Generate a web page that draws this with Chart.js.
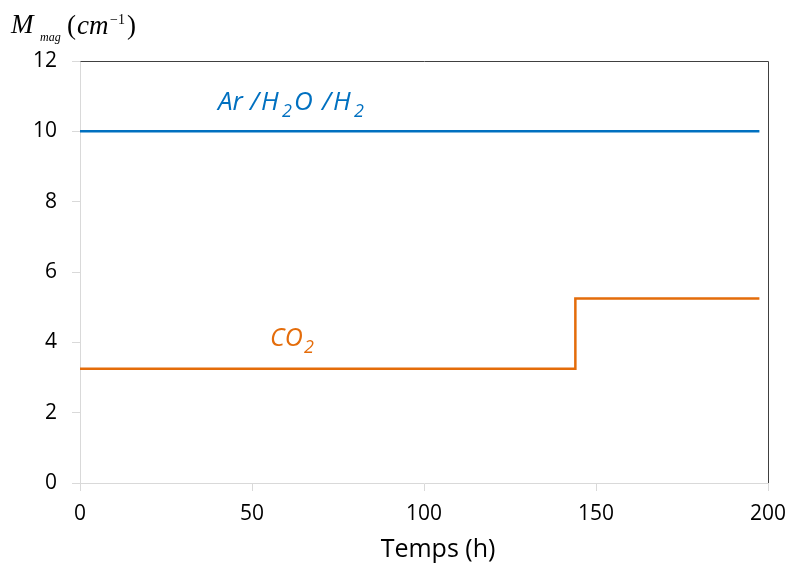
<!DOCTYPE html>
<html>
<head>
<meta charset="utf-8">
<script src="https://cdn.jsdelivr.net/npm/chart.js@4"></script>
<style>
  html, body { margin: 0; padding: 0; background: #fff; }
  #wrap { width: 790px; height: 566px; position: relative; }
</style>
</head>
<body>
<div id="wrap"><canvas id="c" width="790" height="566"></canvas></div>
<script>
// ---- data ----
const timeArH2OH2 = [0, 197.5];
const magArH2OH2 = [10, 10];
const timeCO2 = [0, 144, 144, 197.5];
const magCO2 = [3.25, 3.25, 5.25, 5.25];
const xTicks = [0, 50, 100, 150, 200];
const yTicks = [0, 2, 4, 6, 8, 10, 12];
const seriesLabels = ['Ar/H2O/H2', 'CO2'];
const xTitle = 'Temps (h)';

const BLUE = '#0070C0';
const ORANGE = '#E46C0A';

const toPts = (xs, ys) => xs.map((x, i) => ({ x: x, y: ys[i] }));

const overlay = {
  id: 'overlay',
  afterDraw(chart) {
    const ctx = chart.ctx;
    const a = chart.chartArea;
    ctx.save();
    // top & right frame lines
    ctx.strokeStyle = '#404040';
    ctx.lineWidth = 1;
    ctx.beginPath();
    ctx.moveTo(a.left + 0.5, a.top + 0.5);
    ctx.lineTo(a.right + 0.5, a.top + 0.5);
    ctx.lineTo(a.right + 0.5, a.bottom);
    ctx.stroke();

    ctx.textBaseline = 'alphabetic';
    ctx.textAlign = 'left';
    function put(t, x, y, font, color) {
      ctx.font = font;
      ctx.fillStyle = color;
      ctx.fillText(t, x, y);
    }
    const big = 'italic 26px "Open Sans"';
    const sub = 'italic 18px "Open Sans"';
    // Ar/H2O/H2 label
    put('Ar', 218, 110, big, BLUE);
    put('/', 250, 110, big, BLUE);
    put('H', 261, 110, big, BLUE);
    put('2', 282, 117, sub, BLUE);
    put('O', 294, 110, big, BLUE);
    put('/', 322, 110, big, BLUE);
    put('H', 333, 110, big, BLUE);
    put('2', 354, 117, sub, BLUE);
    // CO2 label
    const big2 = 'italic 25px "Open Sans"';
    const sub2 = 'italic 18px "Open Sans"';
    put('CO', 270, 346, big2, ORANGE);
    put('2', 304, 353, sub2, ORANGE);
    // Y axis title: M_mag (cm^-1)
    const serifI = 'italic 27px "Liberation Serif"';
    const serif = '27px "Liberation Serif"';
    put('M', 11, 33, serifI, '#000');
    put('mag', 40, 41, 'italic 12px "Liberation Serif"', '#000');
    put('(', 67, 34, serif, '#000');
    put('cm', 77, 34, serifI, '#000');
    put('\u22121', 110, 24, '14px "Liberation Serif"', '#000');
    put(')', 127, 34, serif, '#000');
    // X axis title
    ctx.textAlign = 'center';
    put(xTitle, 438, 557, '25px "Open Sans"', '#000');
    ctx.restore();
  }
};

new Chart(document.getElementById('c'), {
  type: 'line',
  data: {
    datasets: [
      {
        label: seriesLabels[0],
        data: toPts(timeArH2OH2, magArH2OH2),
        borderColor: BLUE,
        borderWidth: 2.5,
        pointRadius: 0,
        tension: 0
      },
      {
        label: seriesLabels[1],
        data: toPts(timeCO2, magCO2),
        borderColor: ORANGE,
        borderWidth: 2.5,
        pointRadius: 0,
        tension: 0
      }
    ]
  },
  options: {
    responsive: false,
    animation: false,
    events: [],
    layout: { padding: { top: 61, right: 22, left: 0, bottom: 0 } },
    plugins: { legend: { display: false }, tooltip: { enabled: false } },
    scales: {
      x: {
        type: 'linear',
        min: xTicks[0],
        max: xTicks[xTicks.length - 1],
        afterBuildTicks: (s) => { s.ticks = xTicks.map(v => ({ value: v })); },
        afterFit: (s) => { s.height = 83; s.paddingLeft = 0; s.paddingRight = 0; },
        grid: { drawOnChartArea: false, tickLength: 8, color: '#d9d9d9' },
        border: { display: true, color: '#d9d9d9' },
        ticks: { color: '#000', font: { family: '"Open Sans"', size: 21 }, padding: 10, maxRotation: 0 },
        title: { display: false }
      },
      y: {
        min: yTicks[0],
        max: yTicks[yTicks.length - 1],
        afterBuildTicks: (s) => { s.ticks = yTicks.map(v => ({ value: v })); },
        afterFit: (s) => { s.width = 80; s.paddingTop = 0; s.paddingBottom = 0; },
        grid: { drawOnChartArea: false, tickLength: 8, color: '#d9d9d9' },
        border: { display: true, color: '#d9d9d9' },
        ticks: { color: '#000', font: { family: '"Open Sans"', size: 21 }, padding: 15 }
      }
    }
  },
  plugins: [overlay]
});
</script>
</body>
</html>
